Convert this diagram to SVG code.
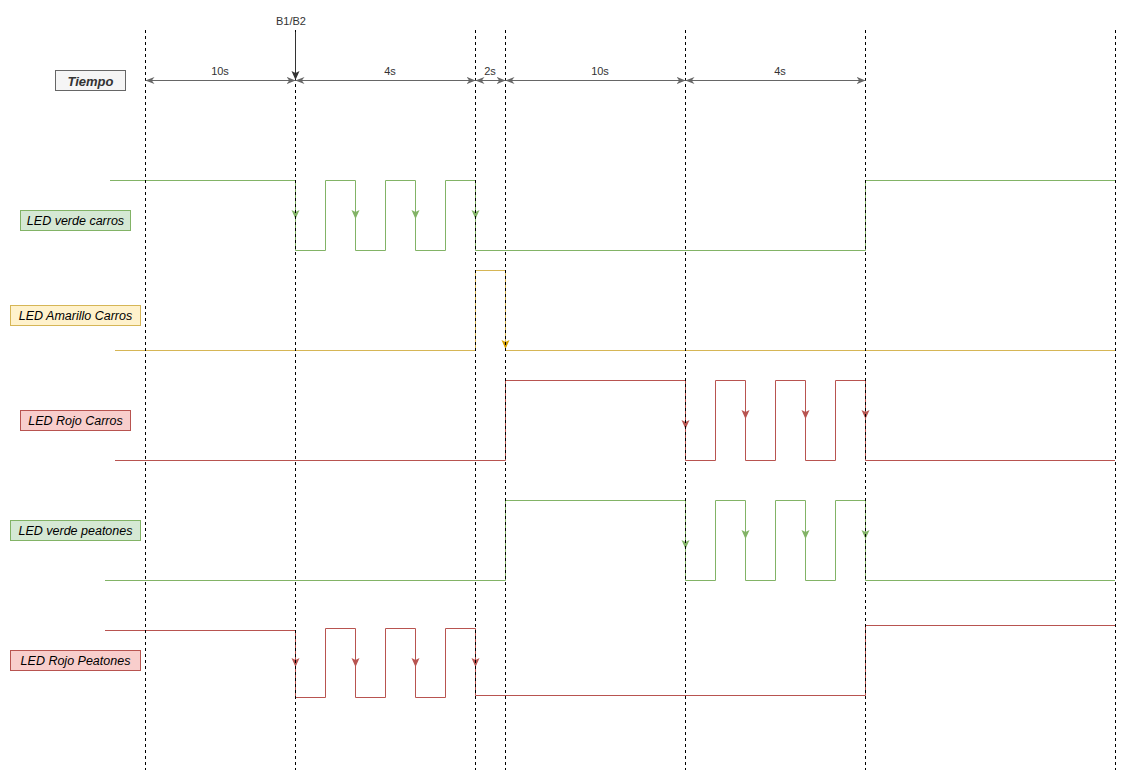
<svg xmlns="http://www.w3.org/2000/svg" width="1128" height="783" viewBox="0 0 1128 783">
<style>
.lbl{font-family:"Liberation Sans",Arial,sans-serif;font-size:12.5px;font-style:italic;fill:#000;text-anchor:middle;dominant-baseline:central}
.dimt{font-family:"Liberation Sans",Arial,sans-serif;font-size:11px;fill:#333;text-anchor:middle}
.grid{stroke:#000;stroke-width:1;stroke-dasharray:3 3;fill:none}
.dim{stroke:#666;stroke-width:1;fill:none;marker-start:url(#dh);marker-end:url(#dh)}
.w{fill:none;stroke-width:1}
.g{stroke:#82b366}
.y{stroke:#d6b656}
.r{stroke:#b85450}
</style>
<defs>
<marker id="dh" viewBox="0 0 10 10" refX="10" refY="5" markerWidth="9" markerHeight="9" markerUnits="userSpaceOnUse" orient="auto-start-reverse">
<path d="M0,1 L10,5 L0,9 L3,5 Z" fill="#666"/>
</marker>
<path id="ah" d="M-4,-9 L0,0 L4,-9 L0,-7 Z"/>
</defs>
<rect width="1128" height="783" fill="#fff"/>

<g id="connectors">
  <!-- LED verde carros -->
  <g id="w-verde-carros" fill="#82b366">
    <polyline class="w g" points="110,180.5 295.5,180.5 295.5,250.5 325.5,250.5 325.5,180.5 355.5,180.5 355.5,250.5 385.5,250.5 385.5,180.5 415.5,180.5 415.5,250.5 445.5,250.5 445.5,180.5 475.5,180.5 475.5,250.5 865.5,250.5 865.5,180.5 1115,180.5"/>
    <use href="#ah" x="295.5" y="219"/>
    <use href="#ah" x="355.5" y="219"/>
    <use href="#ah" x="415.5" y="219"/>
    <use href="#ah" x="475.5" y="219"/>
  </g>
  <!-- LED amarillo carros -->
  <g id="w-amarillo-carros" fill="#d6a000">
    <polyline class="w y" points="115,350.5 475.5,350.5 475.5,270.5 505.5,270.5 505.5,350.5 1115,350.5"/>
    <use href="#ah" x="505.5" y="349"/>
  </g>
  <!-- LED rojo carros -->
  <g id="w-rojo-carros" fill="#b85450">
    <polyline class="w r" points="115,460.5 505.5,460.5 505.5,380.5 685.5,380.5 685.5,460.5 715.5,460.5 715.5,380.5 745.5,380.5 745.5,460.5 775.5,460.5 775.5,380.5 805.5,380.5 805.5,460.5 835.5,460.5 835.5,380.5 865.5,380.5 865.5,460.5 1115,460.5"/>
    <use href="#ah" x="685.5" y="429"/>
    <use href="#ah" x="745.5" y="419"/>
    <use href="#ah" x="805.5" y="419"/>
    <use href="#ah" x="865.5" y="419"/>
  </g>
  <!-- LED verde peatones -->
  <g id="w-verde-peatones" fill="#82b366">
    <polyline class="w g" points="105,580.5 505.5,580.5 505.5,500.5 685.5,500.5 685.5,580.5 715.5,580.5 715.5,500.5 745.5,500.5 745.5,580.5 775.5,580.5 775.5,500.5 805.5,500.5 805.5,580.5 835.5,580.5 835.5,500.5 865.5,500.5 865.5,580.5 1115,580.5"/>
    <use href="#ah" x="685.5" y="549"/>
    <use href="#ah" x="745.5" y="539"/>
    <use href="#ah" x="805.5" y="539"/>
    <use href="#ah" x="865.5" y="539"/>
  </g>
  <!-- LED rojo peatones -->
  <g id="w-rojo-peatones" fill="#b85450">
    <polyline class="w r" points="105,630.5 295.5,630.5 295.5,697.5 325.5,697.5 325.5,628.5 355.5,628.5 355.5,697.5 385.5,697.5 385.5,628.5 415.5,628.5 415.5,697.5 445.5,697.5 445.5,628.5 475.5,628.5 475.5,695.5 865.5,695.5 865.5,625.5 1115,625.5"/>
    <use href="#ah" x="295.5" y="667"/>
    <use href="#ah" x="355.5" y="667"/>
    <use href="#ah" x="415.5" y="667"/>
    <use href="#ah" x="475.5" y="667"/>
  </g>
  <!-- time grid -->
  <g id="grid">
    <line class="grid" x1="145.5" y1="30" x2="145.5" y2="770"/>
    <line class="grid" x1="295.5" y1="30" x2="295.5" y2="770"/>
    <line class="grid" x1="475.5" y1="30" x2="475.5" y2="770"/>
    <line class="grid" x1="505.5" y1="30" x2="505.5" y2="770"/>
    <line class="grid" x1="685.5" y1="30" x2="685.5" y2="770"/>
    <line class="grid" x1="865.5" y1="30" x2="865.5" y2="770"/>
    <line class="grid" x1="1115.5" y1="30" x2="1115.5" y2="770"/>
  </g>
  <!-- dimension arrows -->
  <g id="dims">
    <line class="dim" x1="145.5" y1="80.5" x2="295.5" y2="80.5"/>
    <line class="dim" x1="295.5" y1="80.5" x2="475.5" y2="80.5"/>
    <line class="dim" x1="475.5" y1="80.5" x2="505.5" y2="80.5"/>
    <line class="dim" x1="505.5" y1="80.5" x2="685.5" y2="80.5"/>
    <line class="dim" x1="685.5" y1="80.5" x2="865.5" y2="80.5"/>
    <line x1="295.5" y1="32" x2="295.5" y2="74" stroke="#333" stroke-width="1"/>
    <use href="#ah" x="295.5" y="80" fill="#333"/>
    <text class="dimt" x="220" y="75">10s</text>
    <text class="dimt" x="390" y="75">4s</text>
    <text class="dimt" x="490" y="75">2s</text>
    <text class="dimt" x="600" y="75">10s</text>
    <text class="dimt" x="780" y="75">4s</text>
    <text class="dimt" x="291" y="25">B1/B2</text>
  </g>
</g>

<g id="tiempo">
  <rect x="55.5" y="70.5" width="70" height="20" fill="#f5f5f5" stroke="#666"/>
  <text x="90.5" y="81" font-family="Liberation Sans, Arial, sans-serif" font-size="13" font-weight="bold" font-style="italic" fill="#333" text-anchor="middle" dominant-baseline="central">Tiempo</text>
</g>
<g id="lbl-verde-carros">
  <rect x="20.5" y="210.5" width="110" height="20" fill="#d5e8d4" stroke="#82b366"/>
  <text class="lbl" x="75.5" y="221">LED verde carros</text>
</g>
<g id="lbl-amarillo-carros">
  <rect x="10.5" y="305.5" width="130" height="20" fill="#fff2cc" stroke="#d6b656"/>
  <text class="lbl" x="75.5" y="316">LED Amarillo Carros</text>
</g>
<g id="lbl-rojo-carros">
  <rect x="20.5" y="410.5" width="110" height="20" fill="#f8cecc" stroke="#b85450"/>
  <text class="lbl" x="75.5" y="421">LED Rojo Carros</text>
</g>
<g id="lbl-verde-peatones">
  <rect x="10.5" y="520.5" width="130" height="20" fill="#d5e8d4" stroke="#82b366"/>
  <text class="lbl" x="75.5" y="531">LED verde peatones</text>
</g>
<g id="lbl-rojo-peatones">
  <rect x="10.5" y="650.5" width="130" height="20" fill="#f8cecc" stroke="#b85450"/>
  <text class="lbl" x="75.5" y="661">LED Rojo Peatones</text>
</g>
</svg>
